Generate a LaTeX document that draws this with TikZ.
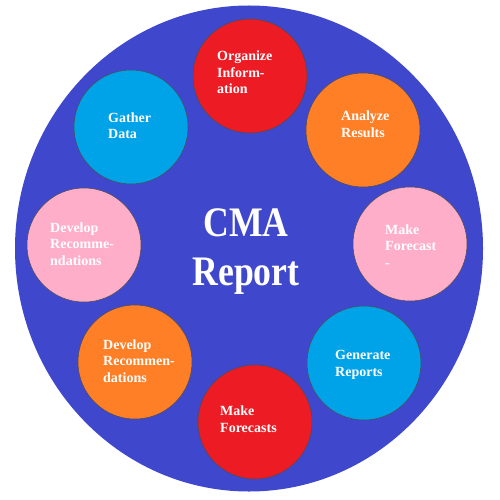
\documentclass[tikz,border=0pt]{standalone}
\usepackage{fontspec}
\usetikzlibrary{shapes.geometric}
\setmainfont{Liberation Serif}
\newfontfamily\titlefont[FakeStretch=0.85]{Liberation Serif}
\definecolor{bigblue}{HTML}{3F48CC}
\definecolor{cred}{HTML}{ED1C24}
\definecolor{corange}{HTML}{FF7F27}
\definecolor{cpink}{HTML}{FFAEC9}
\definecolor{ccyan}{HTML}{00A2E8}
\begin{document}
\begin{tikzpicture}[x=1pt,y=-1pt,
  bubble/.style={circle,draw=black!70,line width=0.5pt,minimum size=114pt,inner sep=0pt},
  lbl/.style={text=white,font=\fontsize{14}{16.5}\selectfont\bfseries,align=left,anchor=base west,inner sep=0pt}]
\useasboundingbox (0,0) rectangle (500,500);
\fill[white] (0,0) rectangle (500,500);
\node[ellipse,fill=bigblue,minimum width=468pt,minimum height=486pt,inner sep=0pt] (big) at (249,248.5) {};
\node[bubble,fill=cred] (org) at (250,76) {};
\node[bubble,fill=ccyan] (gat) at (131,127) {};
\node[bubble,fill=corange] (ana) at (363,130) {};
\node[bubble,fill=cpink] (mfr) at (410,244) {};
\node[bubble,fill=cpink] (dvp) at (84,245) {};
\node[bubble,fill=corange] (dvo) at (135,362) {};
\node[bubble,fill=ccyan] (gen) at (364,363) {};
\node[bubble,fill=cred] (mfs) at (255,422) {};
\node[lbl] (torg) at (217,94) {Organize\\Inform-\\ation};
\node[lbl] (tgat) at (108,139) {Gather\\Data};
\node[lbl] (tana) at (341,137) {Analyze\\Results};
\node[lbl] (tmfr) at (385,267) {Make\\Forecast\\-};
\node[lbl] (tdvp) at (50,265) {Develop\\Recomme-\\ndations};
\node[lbl] (tdvo) at (103,382) {Develop\\Recommen-\\dations};
\node[lbl] (tgen) at (335,376) {Generate\\Reports};
\node[lbl] (tmfs) at (220,432) {Make\\Forecasts};
\node[text=white,font=\titlefont\fontsize{42}{49}\selectfont\bfseries,align=center,inner sep=0pt] (title) at (246,252) {CMA\\Report};
\end{tikzpicture}
\end{document}
